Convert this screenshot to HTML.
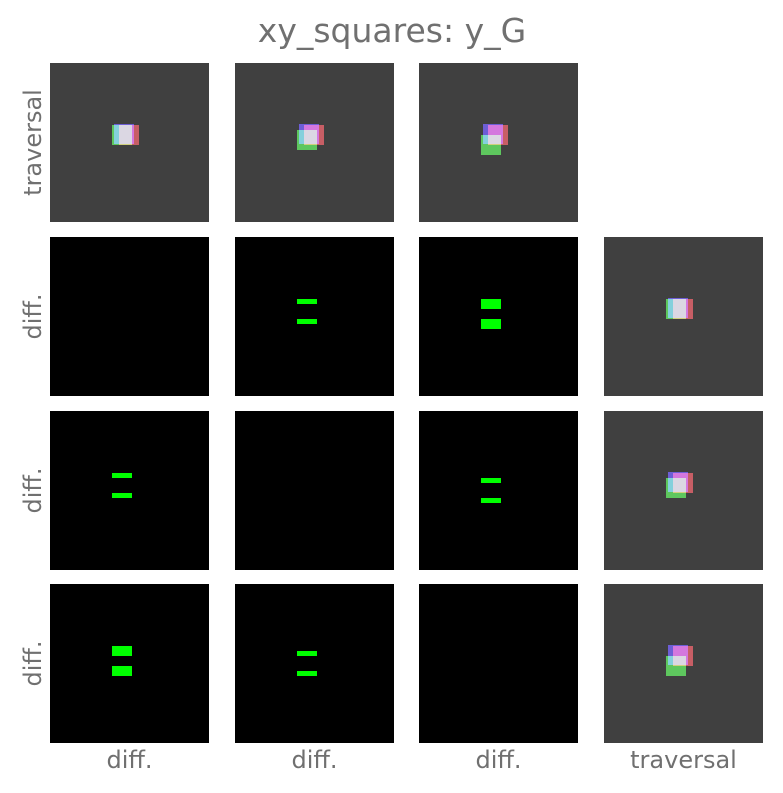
<!DOCTYPE html>
<html><head><meta charset="utf-8"><style>
body{margin:0;background:#fff;}
svg text{font-family:"DejaVu Sans","Liberation Sans",sans-serif;fill:#707070;}
</style></head><body>
<svg id="fig" width="783" height="788" xmlns="http://www.w3.org/2000/svg">
<text x="392" y="42" font-size="33" text-anchor="middle">xy_squares: y_G</text>
<g id="panels"></g>
</svg>
<script>
const stepOffsets = [0, 5, 10];
const rowLabels = ["traversal", "diff.", "diff.", "diff."];
const colLabels = ["diff.", "diff.", "diff.", "traversal"];
const colX = [50, 235, 419, 604];
const rowY = [63, 237, 411, 584];
const P = 159, S = 20;
const NS = "http://www.w3.org/2000/svg";
const root = document.getElementById('panels');
function mk(tag, attrs, parent){const e=document.createElementNS(NS,tag);for(const k in attrs)e.setAttribute(k,attrs[k]);parent.appendChild(e);return e;}
function traversal(x0,y0,step,name){
  const g=mk('g',{},root);
  
  
  mk('rect',{x:x0,y:y0,width:P,height:P,fill:'#404040'},g);
  const sq=[[64,61,'rgb(60,40,200)',0],[69,62,'rgb(180,40,50)',0],[62,62,'rgb(40,180,40)',stepOffsets[step]]];
  sq.forEach(s=>{mk('rect',{x:x0+s[0],y:y0+s[1]+s[3],width:S,height:S,fill:s[2],style:'mix-blend-mode:screen'},g);});
}
function diff(x0,y0,a,b,name){
  const g=mk('g',{},root);
  
  
  mk('rect',{x:x0,y:y0,width:P,height:P,fill:'#000'},g);
  const d=Math.abs(stepOffsets[a]-stepOffsets[b]);
  if(d>0){
    const top=Math.min(stepOffsets[a],stepOffsets[b]);
    mk('rect',{x:x0+62,y:y0+62+top,width:S,height:d,fill:'#00ff00'},g);
    mk('rect',{x:x0+62,y:y0+62+top+S,width:S,height:d,fill:'#00ff00'},g);
  }
}
for(let c=0;c<3;c++) traversal(colX[c],rowY[0],c,'traversal-panel-'+c);
for(let r=1;r<4;r++){
  for(let c=0;c<3;c++) diff(colX[c],rowY[r],r-1,c,'diff-panel-'+r+'-'+c);
  traversal(colX[3],rowY[r],r-1,'traversal-panel-row-'+r);
}
const fig=document.getElementById('fig');
rowLabels.forEach((t,i)=>{
  const y=rowY[i]+P/2;
  const e=mk('text',{x:0,y:0,'font-size':24,'text-anchor':'middle',transform:`translate(41,${y}) rotate(-90)`},fig);
  e.textContent=t;
  
  
});
colLabels.forEach((t,i)=>{
  const e=mk('text',{x:colX[i]+P/2,y:768,'font-size':24,'text-anchor':'middle'},fig);
  e.textContent=t;
  
  
});
</script>
</body></html>
